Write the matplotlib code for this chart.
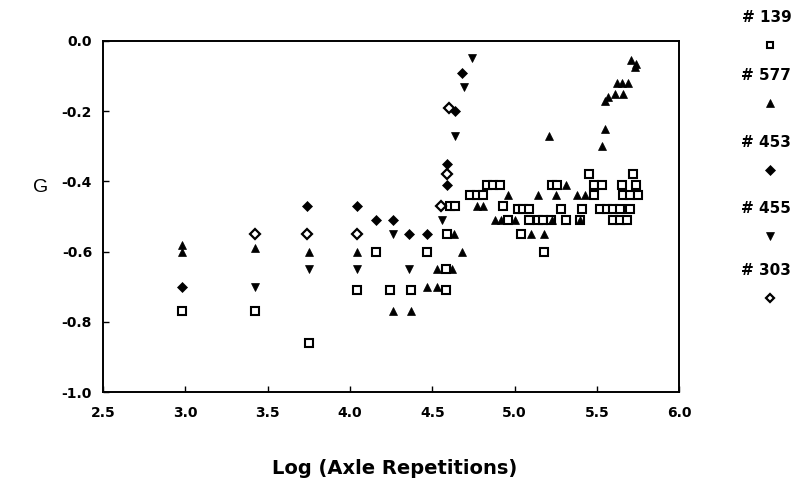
"""
Log(axle repetitions) vs G scatter, five sections.
"""

import matplotlib
matplotlib.use("Agg")
import matplotlib.pyplot as plt

plt.rcParams["font.family"] = ["DejaVu Sans"]

# --- data ---
x_139 = [2.98, 3.42, 3.75, 4.04, 4.16, 4.24, 4.37, 4.47, 4.58, 4.58, 4.59,
         4.61, 4.64, 4.73, 4.77, 4.81, 4.83, 4.87, 4.91, 4.93, 4.96,
         5.02, 5.05, 5.09, 5.04, 5.09, 5.14, 5.17, 5.22, 5.18,
         5.23, 5.26, 5.28, 5.31, 5.40, 5.41, 5.45, 5.48, 5.53, 5.48,
         5.52, 5.56, 5.60, 5.64, 5.70, 5.60, 5.64, 5.68, 5.65, 5.74,
         5.72, 5.66, 5.70, 5.75]
y_139 = [-0.77, -0.77, -0.86, -0.71, -0.60, -0.71, -0.71, -0.60, -0.71, -0.65, -0.55,
         -0.47, -0.47, -0.44, -0.44, -0.44, -0.41, -0.41, -0.41, -0.47, -0.51,
         -0.48, -0.48, -0.48, -0.55, -0.51, -0.51, -0.51, -0.51, -0.60,
         -0.41, -0.41, -0.48, -0.51, -0.51, -0.48, -0.38, -0.41, -0.41, -0.44,
         -0.48, -0.48, -0.48, -0.48, -0.48, -0.51, -0.51, -0.51, -0.41, -0.41,
         -0.38, -0.44, -0.44, -0.44]

x_577 = [2.98, 2.98, 3.42, 3.75, 4.04, 4.26, 4.37, 4.47, 4.53, 4.53, 4.62,
         4.63, 4.68, 4.77, 4.81, 4.96, 4.88, 4.92, 5.00, 5.10, 5.18,
         5.21, 5.14, 5.23, 5.25, 5.31, 5.38, 5.43, 5.40, 5.55, 5.53,
         5.55, 5.57, 5.61, 5.66, 5.62, 5.65, 5.69, 5.71, 5.74, 5.73]
y_577 = [-0.58, -0.60, -0.59, -0.60, -0.60, -0.77, -0.77, -0.70, -0.70, -0.65, -0.65,
         -0.55, -0.60, -0.47, -0.47, -0.44, -0.51, -0.51, -0.51, -0.55, -0.55,
         -0.27, -0.44, -0.51, -0.44, -0.41, -0.44, -0.44, -0.51, -0.25, -0.30,
         -0.17, -0.16, -0.15, -0.15, -0.12, -0.12, -0.12, -0.055, -0.065, -0.075]

x_453 = [2.98, 3.74, 4.04, 4.16, 4.26, 4.36, 4.47, 4.59, 4.59, 4.64, 4.68]
y_453 = [-0.70, -0.47, -0.47, -0.51, -0.51, -0.55, -0.55, -0.35, -0.41, -0.20, -0.09]

x_455 = [3.42, 3.75, 4.04, 4.26, 4.36, 4.56, 4.64, 4.69, 4.74]
y_455 = [-0.70, -0.65, -0.65, -0.55, -0.65, -0.51, -0.27, -0.13, -0.05]

x_303 = [3.42, 3.74, 4.04, 4.55, 4.59, 4.60]
y_303 = [-0.55, -0.55, -0.55, -0.47, -0.38, -0.19]

x_ticks = [2.5, 3.0, 3.5, 4.0, 4.5, 5.0, 5.5, 6.0]
y_ticks = [0.0, -0.2, -0.4, -0.6, -0.8, -1.0]

series = [
    ("# 139", x_139, y_139, dict(marker="s", mfc="white", mec="black", ms=5.2, mew=1.5)),
    ("# 577", x_577, y_577, dict(marker="^", mfc="black", mec="black", ms=6.0, mew=0.5)),
    ("# 453", x_453, y_453, dict(marker="D", mfc="black", mec="black", ms=5.5, mew=0.5)),
    ("# 455", x_455, y_455, dict(marker="v", mfc="black", mec="black", ms=6.0, mew=0.5)),
    ("# 303", x_303, y_303, dict(marker="D", mfc="white", mec="black", ms=5.2, mew=1.6)),
]

fig = plt.figure(figsize=(8.0, 4.87), dpi=100)
ax = fig.add_axes([0.129, 0.195, 0.72, 0.721])

for name, xs, ys, style in series:
    ax.plot(xs, ys, linestyle="None", zorder=3, **style)

ax.set_xlim(2.5, 6.0)
ax.set_ylim(-1.0, 0.0)
ax.set_xticks(x_ticks)
ax.set_yticks(y_ticks)
ax.set_xticklabels([f"{v:.1f}" for v in x_ticks])
ax.set_yticklabels([f"{v:.1f}" for v in y_ticks])
ax.tick_params(direction="in", length=4, width=1, labelsize=10)
ax.tick_params(axis="x", pad=10)
ax.tick_params(axis="y", pad=8)
for lab in ax.get_xticklabels() + ax.get_yticklabels():
    lab.set_fontweight("bold")
for sp in ax.spines.values():
    sp.set_linewidth(1.4)

fig.text(0.493, 0.039, "Log (Axle Repetitions)", fontsize=14, fontweight="bold",
         ha="center", va="center")
fig.text(0.051, 0.614, "G", fontsize=14, ha="center", va="center",
         family="Liberation Sans")

# legend column on the right, label over marker
leg_y = [0.965, 0.845, 0.708, 0.572, 0.445]
for (name, xs, ys, style), ty in zip(series, leg_y):
    fig.text(0.958, ty, name, fontsize=11, fontweight="bold", ha="center", va="center")
    st = dict(style)
    st["ms"] = st["ms"] * 0.85
    fig.add_artist(plt.Line2D([0.963], [ty - 0.057], transform=fig.transFigure,
                              linestyle="None", **st))

plt.savefig("out.png", dpi=100)
